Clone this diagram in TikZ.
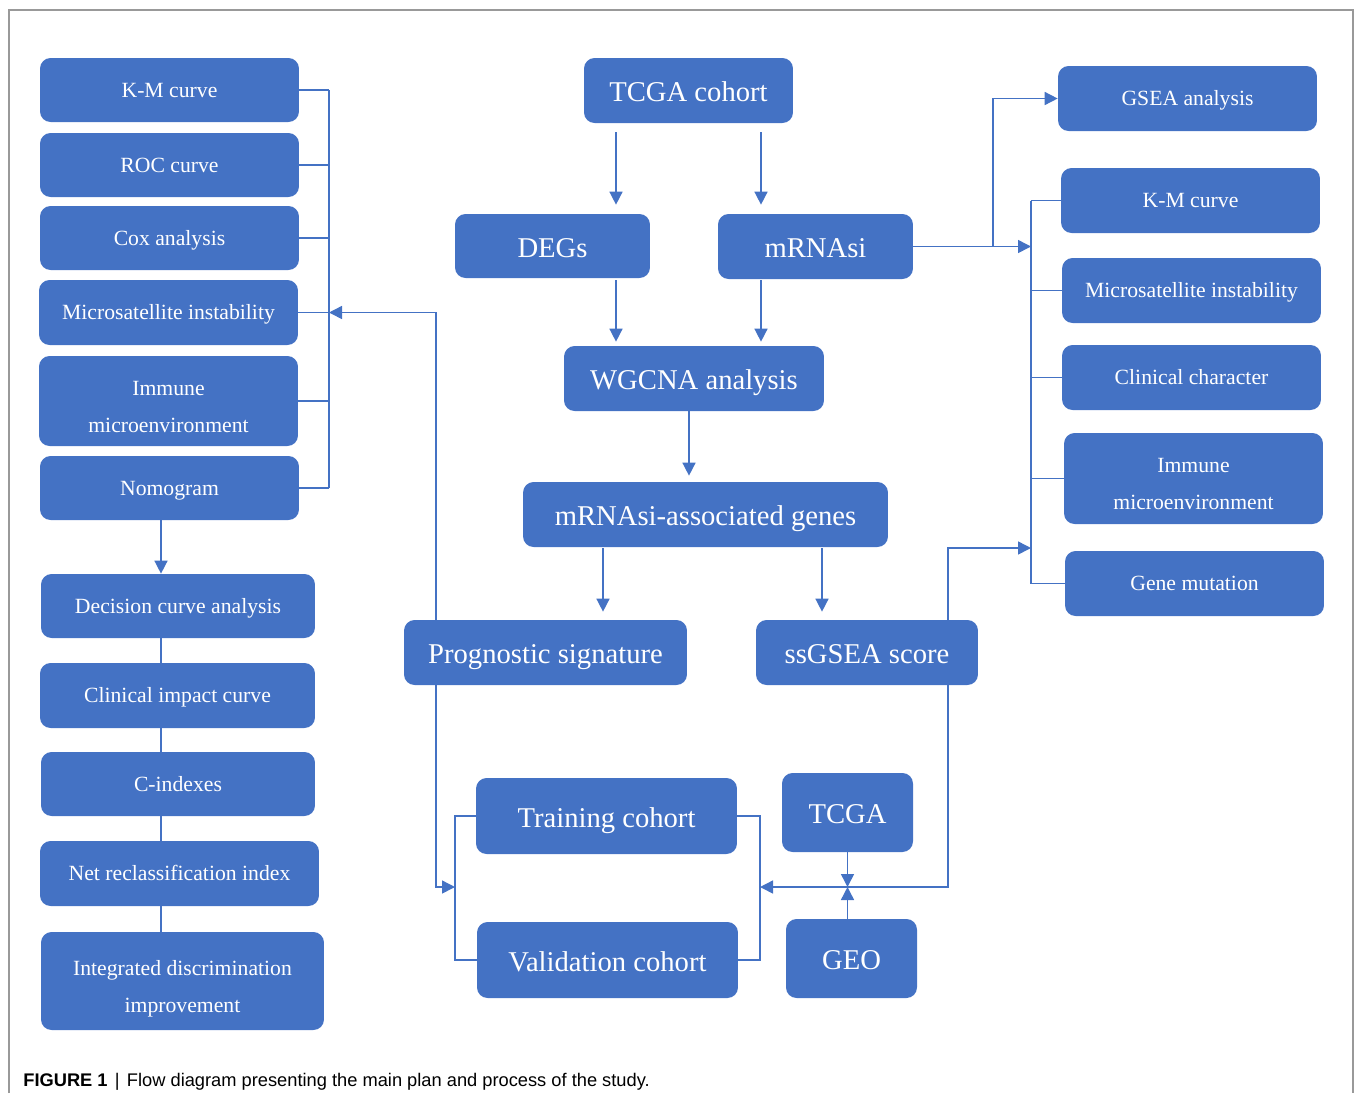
\documentclass[tikz,border=0pt]{standalone}
\usepackage{fontspec}
\setmainfont{Liberation Serif}
\setsansfont{Liberation Sans}
\usepackage{xcolor}
\usepackage{tikz}
\usetikzlibrary{arrows.meta, positioning}
\usetikzlibrary{calc}
\definecolor{boxblue}{HTML}{4472C4}

\begin{document}
\begin{tikzpicture}[x=0.02cm, y=-0.02cm,
  box/.style={rectangle, rounded corners=6pt, fill=boxblue, text=white, inner sep=0pt, align=center, minimum width=5.18cm, minimum height=1.3cm, text height=8.15pt, text depth=0pt, font=\fontsize{12.35}{21}\selectfont},
  twoline/.style={text height=35.5pt, text depth=0pt},
  bigbox/.style={box, text height=13pt, font=\fontsize{16.3}{22}\selectfont},
  line/.style={draw=boxblue, line width=0.85pt},
  arr/.style={line, -{Triangle[length=0.26cm, width=0.26cm]}}]
\useasboundingbox (0,0) rectangle (1355,1093);
\draw[black!40, line width=0.85pt] (9,1093) -- (9,10) -- (1353,10) -- (1353,1093);

\node[box, minimum height=1.28cm] (lkm) at (169.5,90) {K-M curve};
\node[box, minimum height=1.28cm] (lroc) at (169.5,165) {ROC curve};
\node[box, minimum height=1.28cm] (lcox) at (169.5,238) {Cox analysis};
\node[box] (lmsi) at (168.5,312.5) {Microsatellite instability};
\node[box, twoline, minimum height=1.8cm] (limm) at (168.5,401) {Immune\\microenvironment};
\node[box, minimum height=1.28cm] (lnomo) at (169.5,488) {Nomogram};

\node[box, minimum width=5.48cm, minimum height=1.28cm] (dca) at (178,606) {Decision curve analysis};
\node[box, minimum width=5.5cm] (cic) at (177.5,695.5) {Clinical impact curve};
\node[box, minimum width=5.48cm, minimum height=1.28cm] (cidx) at (178,784) {C-indexes};
\node[box, minimum width=5.58cm] (nri) at (179.5,873.5) {Net reclassification index};
\node[box, twoline, minimum width=5.66cm, minimum height=1.96cm] (idi) at (182.5,981) {Integrated discrimination\\improvement};

\node[bigbox, minimum width=4.18cm] (tcga) at (688.5,90.5) {TCGA cohort};
\node[bigbox, minimum width=3.9cm, minimum height=1.28cm] (degs) at (552.5,246) {DEGs};
\node[bigbox, minimum width=3.9cm] (mrnasi) at (815.5,246.5) {mRNAsi};
\node[bigbox, minimum width=5.2cm] (wgcna) at (694,378.5) {WGCNA analysis};
\node[bigbox, minimum width=7.3cm] (assoc) at (705.5,514.5) {mRNAsi-associated genes};
\node[bigbox, minimum width=5.66cm] (prog) at (545.5,652.5) {Prognostic signature};
\node[bigbox, minimum width=4.44cm] (ssgsea) at (867,652.5) {ssGSEA score};
\node[bigbox, minimum width=5.22cm, minimum height=1.52cm] (train) at (606.5,816) {Training cohort};
\node[bigbox, minimum width=5.22cm, minimum height=1.52cm] (valid) at (607.5,960) {Validation cohort};
\node[bigbox, minimum width=2.62cm, minimum height=1.58cm] (tcgab) at (847.5,812.5) {TCGA};
\node[bigbox, minimum width=2.62cm, minimum height=1.58cm] (geo) at (851.5,958.5) {GEO};

\node[box] (gsea) at (1187.5,98.5) {GSEA analysis};
\node[box] (rkm) at (1190.5,200.5) {K-M curve};
\node[box] (rmsi) at (1191.5,290.5) {Microsatellite instability};
\node[box] (rclin) at (1191.5,377.5) {Clinical character};
\node[box, twoline, minimum height=1.82cm] (rimm) at (1193.5,478.5) {Immune\\microenvironment};
\node[box] (rmut) at (1194.5,583.5) {Gene mutation};

\coordinate (bl) at (329,0);
\coordinate (lx) at (161,0);
\coordinate (br) at (1031,0);
\coordinate (gb) at (993,0);
\coordinate (c1) at (616,0);
\coordinate (c2) at (761,0);
\coordinate (c3) at (689,0);
\coordinate (c4) at (603,0);
\coordinate (c5) at (822,0);
\coordinate (px) at (436,0);
\coordinate (s1) at (948,548);
\coordinate (vl) at (455,887);
\coordinate (vr) at (760,887);

\draw[line] (lkm.east -| bl) -- (lnomo.east -| bl);
\draw[line] (lkm.east) -- (lkm.east -| bl);
\draw[line] (lroc.east) -- (lroc.east -| bl);
\draw[line] (lcox.east) -- (lcox.east -| bl);
\draw[line] (lmsi.east) -- (lmsi.east -| bl);
\draw[line] (limm.east) -- (limm.east -| bl);
\draw[line] (lnomo.east) -- (lnomo.east -| bl);

\draw[arr] (lnomo.south -| lx) -- (dca.north -| lx);
\draw[line] (dca.south -| lx) -- (cic.north -| lx);
\draw[line] (cic.south -| lx) -- (cidx.north -| lx);
\draw[line] (cidx.south -| lx) -- (nri.north -| lx);
\draw[line] (nri.south -| lx) -- (idi.north -| lx);

\draw[arr, shorten <=0.18cm, shorten >=0.18cm] (tcga.south -| c1) -- (degs.north -| c1);
\draw[arr, shorten <=0.18cm, shorten >=0.18cm] (tcga.south -| c2) -- (mrnasi.north -| c2);
\draw[arr, shorten <=0.04cm, shorten >=0.08cm] (degs.south -| c1) -- (wgcna.north -| c1);
\draw[arr, shorten <=0.02cm, shorten >=0.08cm] (mrnasi.south -| c2) -- (wgcna.north -| c2);
\draw[arr, shorten >=0.12cm] (wgcna.south -| c3) -- (assoc.north -| c3);
\draw[arr, shorten <=0.02cm, shorten >=0.16cm] (assoc.south -| c4) -- (prog.north -| c4);
\draw[arr, shorten <=0.02cm, shorten >=0.16cm] (assoc.south -| c5) -- (ssgsea.north -| c5);

\draw[arr] (prog.north -| px) |- (bl |- lmsi);
\draw[arr] (prog.south -| px) |- (vl);
\draw[line] (train.west) -| (vl) |- (valid.west);
\draw[line] (train.east) -| (vr) |- (valid.east);
\draw[arr] (ssgsea.south -| s1) |- (vr);
\draw[arr] (tcgab.south) -- (tcgab.south |- vr);
\draw[arr] (geo.north -| tcgab) -- (tcgab |- vr);

\draw[arr] (ssgsea.north -| s1) -- (s1) -- (s1 -| br);
\draw[arr] (mrnasi.east) -- (mrnasi.east -| br);
\draw[arr] (mrnasi.east -| gb) |- (gsea.west);
\draw[line] (rkm.west -| br) -- (rmut.west -| br);
\draw[line] (rkm.west) -- (rkm.west -| br);
\draw[line] (rmsi.west) -- (rmsi.west -| br);
\draw[line] (rclin.west) -- (rclin.west -| br);
\draw[line] (rimm.west) -- (rimm.west -| br);
\draw[line] (rmut.west) -- (rmut.west -| br);

\node[anchor=west, inner sep=0pt, font=\sffamily\fontsize{10.4}{12}\selectfont] (cap) at (23,1082) {\textbf{FIGURE 1}\hspace{0.4em}|\hspace{0.4em}Flow diagram presenting the main plan and process of the study.};
\end{tikzpicture}
\end{document}
